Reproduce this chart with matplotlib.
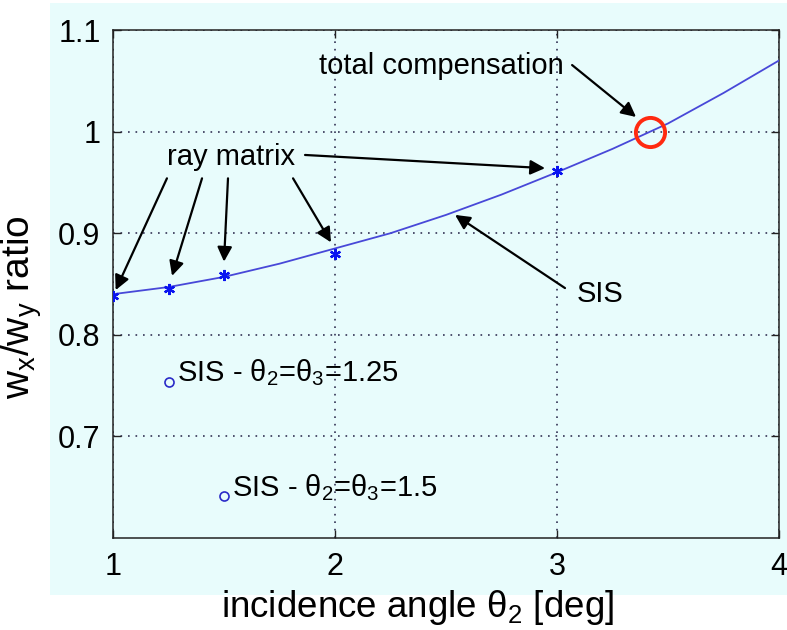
import matplotlib
matplotlib.use('Agg')
import matplotlib.pyplot as plt
from matplotlib.patches import Rectangle

plt.rcParams['font.family'] = ['Liberation Sans', 'DejaVu Sans']
plt.rcParams['mathtext.fontset'] = 'custom'
plt.rcParams['mathtext.rm'] = 'Liberation Sans'
plt.rcParams['mathtext.it'] = 'Liberation Sans'

# SIS curve
sis_x = [1.0, 1.25, 1.5, 1.75, 2.0, 2.25, 2.5, 2.75, 3.0, 3.25, 3.5, 3.75, 4.0]
sis_y = [0.840, 0.847, 0.857, 0.870, 0.885, 0.900, 0.918, 0.938, 0.960, 0.983, 1.008, 1.038, 1.070]

# ray matrix points
ray_x = [1.0, 1.25, 1.5, 2.0, 3.0]
ray_y = [0.838, 0.845, 0.859, 0.880, 0.961]

# SIS with theta2 = theta3
eq_x = [1.25, 1.5]
eq_y = [0.754, 0.641]
eq_labels = ['SIS - θ$_\\mathrm{2}$=θ$_\\mathrm{3}$=1.25', 'SIS - θ$_\\mathrm{2}$=θ$_\\mathrm{3}$=1.5']

# total compensation point
comp_x = [3.42]
comp_y = [1.0]

bg = '#e8fcfc'

fig = plt.figure(figsize=(7.87, 6.3), dpi=100, facecolor='white')
fig.patches.append(Rectangle((50/787, 1-595/630), 1-50/787, 592/630,
                             transform=fig.transFigure, facecolor=bg,
                             edgecolor='none', zorder=-10))
ax = fig.add_axes([113/787, 1-538/630, 666/787, 508/630])
ax.set_facecolor(bg)

ax.plot(sis_x, sis_y, color='#4848d8', lw=1.3, zorder=3)
ax.plot(ray_x, ray_y, ls='none', marker=(6, 2, 0), ms=8, mec='#0a14f0',
        mew=1.6, zorder=4)
ax.plot(eq_x, eq_y, ls='none', marker='o', ms=6.5, mfc='none',
        mec='#2a2ac8', mew=1.2, zorder=4)
ax.plot(comp_x, comp_y, ls='none', marker='o', ms=21, mfc='none',
        mec='#ff2a10', mew=2.8, zorder=5)

ax.set_xlim(1, 4)
ax.set_ylim(0.6, 1.1)
ax.set_xticks([1, 2, 3, 4])
ax.set_xticklabels(['1', '2', '3', '4'])
ax.set_yticks([0.7, 0.8, 0.9, 1.0, 1.1])
ax.set_yticklabels(['0.7', '0.8', '0.9', '1', '1.1'])
ax.tick_params(direction='in', top=True, right=True, length=6, width=1,
               labelsize=22, color='#222222')
ax.tick_params(axis='x', pad=10)
ax.tick_params(axis='y', pad=9)
for s in ax.spines.values():
    s.set_color('#222222')
    s.set_linewidth(1.1)
ax.grid(True, ls=(0, (1, 3.5)), color='#333355', lw=1.2)

ax.set_xlabel('incidence angle θ$_\\mathrm{2}$ [deg]', fontsize=26.5)
ax.set_ylabel('w$_\\mathrm{x}$/w$_\\mathrm{y}$ ratio', fontsize=28)
ax.xaxis.set_label_coords(0.458, -0.098)
ax.yaxis.set_label_coords(-0.104, 0.455)

arr = dict(arrowstyle='-|>', color='k', lw=1.6, mutation_scale=22,
           shrinkA=0, shrinkB=0)

# ray matrix label and arrows
ax.text(1.532, 0.975, 'ray matrix', fontsize=21, ha='center', va='center')
starts = [(1.243, 0.954), (1.401, 0.954), (1.518, 0.954), (1.811, 0.954), (1.865, 0.977)]
tips = [(1.012, 0.844), (1.266, 0.858), (1.500, 0.872), (1.982, 0.891), (2.946, 0.964)]
for (sx, sy), (tx, ty) in zip(starts, tips):
    ax.annotate('', xy=(tx, ty), xytext=(sx, sy), arrowprops=arr)

# total compensation
ax.text(2.477, 1.0646, 'total compensation', fontsize=21, ha='center', va='center')
ax.annotate('', xy=(3.356, 1.0144), xytext=(3.068, 1.0655), arrowprops=arr)

# SIS
ax.text(3.194, 0.840, 'SIS', fontsize=21, ha='center', va='center')
ax.annotate('', xy=(2.541, 0.918), xytext=(3.036, 0.846), arrowprops=arr)

for x, y, lab in zip(eq_x, eq_y, eq_labels):
    ax.annotate(lab, xy=(x, y), xytext=(6, 0), textcoords='offset points',
                fontsize=21, ha='left', va='baseline')

fig.savefig('out.png', dpi=100, facecolor='white')
